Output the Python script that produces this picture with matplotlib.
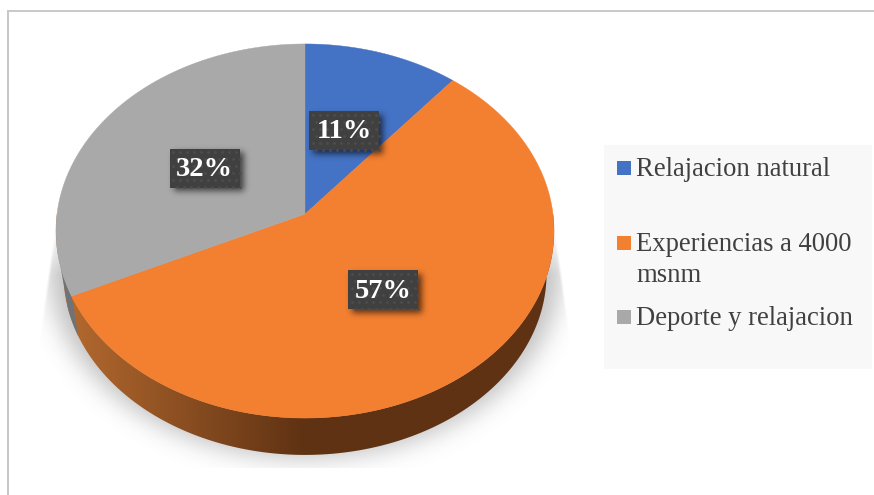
import numpy as np
import matplotlib
matplotlib.use("Agg")
import matplotlib.pyplot as plt
from matplotlib.colors import LinearSegmentedColormap
from matplotlib.patches import Polygon, Rectangle

categories = ["Relajacion natural", "Experiencias a 4000\nmsnm", "Deporte y relajacion"]
values = [11, 57, 32]
colors = ["#4472c4", "#f37f30", "#a9a9a9"]
label_centers = [(344, 130.5), (383, 289.5), (204.5, 168)]

W, H = 874, 495
cx, cy = 305, 214
k, A, B = 0.0909, 248, 185.5
low_s, depth = 0.97, 43

plt.rcParams["font.family"] = ["Liberation Serif", "DejaVu Serif"]


def rim(theta, a=A, b=B, dy=0):
    # pie plane seen in perspective, theta clockwise from the top
    u, v = np.sin(theta), np.cos(theta)
    w = 1 + k * v
    return np.column_stack([cx + a * u / w, cy - b * v / w + dy])


def low_rim(theta):
    return rim(theta, A * low_s, B * low_s, depth)


def blur(img, sigma):
    r = int(3 * sigma)
    g = np.exp(-0.5 * (np.arange(-r, r + 1) / sigma) ** 2)
    g /= g.sum()
    img = np.apply_along_axis(np.convolve, 0, img, g, mode="same")
    return np.apply_along_axis(np.convolve, 1, img, g, mode="same")


def gray_layer(alpha, shade, x0=0, x1=W, y0=0, y1=H):
    rgba = np.zeros(alpha.shape + (4,))
    rgba[..., :3] = shade
    rgba[..., 3] = alpha
    return ax.imshow(rgba, extent=(x0, x1, y1, y0), aspect="auto", interpolation="bilinear")


fig = plt.figure(figsize=(W / 100, H / 100), dpi=100)
ax = fig.add_axes([0, 0, 1, 1])
ax.set_axis_off()

# page frame
ax.add_patch(Rectangle((7, 10), W, 1.6, fc="#c9c9c9", ec="none"))
ax.add_patch(Rectangle((7, 10), 1.6, H, fc="#c9c9c9", ec="none"))

# soft shadow under the pie, cut off by a slanted box like the original
yy, xx = np.mgrid[0:H, 0:W] + 0.5
mask = (((xx - cx) / 256.0) ** 2 + ((yy - 268) / 190.0) ** 2 < 1).astype(float)
shadow = blur(mask, 12) * 0.42
half = 250 + np.clip(yy - 225, 0, None) * 15 / 105
edge = np.clip((half - np.abs(xx - cx)) / 3.0, 0, 1)
shadow = shadow * edge * np.clip((yy - 225) / 50, 0, 1)
shadow[yy > 468] = 0
gray_layer(shadow, 0.42)

# side wall
t = np.linspace(np.pi / 2, 3 * np.pi / 2, 400)
wall = Polygon(np.vstack([rim(t), low_rim(t)[::-1]]), fc="none", ec="none")
ax.add_patch(wall)
side_cmap = LinearSegmentedColormap.from_list(
    "side", [(0, "#b86c30"), (0.5, "#5f3213"), (1, "#5f3213")]
)
grad = ax.imshow(np.linspace(0, 1, 256)[None, :], extent=(55, 555, 460, 200), aspect="auto", cmap=side_cmap)
grad.set_clip_path(wall)

# grey sliver of the wall at the far left
bounds = 2 * np.pi * np.cumsum([0] + values) / sum(values)
t_grey = np.linspace(bounds[2], bounds[2] + 0.16, 40)
ax.add_patch(Polygon(np.vstack([rim(t_grey), low_rim(t_grey)[::-1]]), fc="#6f7378", ec="none", zorder=2))

# top faces
for i, val in enumerate(values):
    t = np.linspace(bounds[i], bounds[i + 1], 200)
    pts = np.vstack([[cx, cy], rim(t)])
    ax.add_patch(Polygon(pts, fc=colors[i], ec=colors[i], lw=0.3, zorder=3))

# data labels
for val, (lx, ly) in zip(values, label_centers):
    bw, bh = 70, 39
    x0, y0 = lx - bw / 2, ly - bh / 2
    pad = 18
    m = np.zeros((int(bh + 2 * pad), int(bw + 2 * pad)))
    m[pad:-pad, pad:-pad] = 1
    sh = gray_layer(blur(m, 3.2) * 0.6, 0.0, x0 - pad + 4, x0 + bw + pad + 4, y0 - pad + 4, y0 + bh + pad + 4)
    sh.set_zorder(4)
    ax.add_patch(Rectangle((x0, y0), bw, bh, fc="#404040", ec="none", zorder=5))
    dx, dy = np.meshgrid(np.arange(x0 + 3.5, x0 + bw, 7), np.arange(y0 + 3.5, y0 + bh, 7))
    dx[1::2] += 3.5
    ax.scatter(dx.ravel(), dy.ravel(), s=4, c="#4d4d4d", linewidths=0, zorder=6)
    ax.text(lx, ly + 1.5, "%d%%" % val, color="white", fontsize=20.5, fontweight="bold", ha="center", va="center", zorder=7)

# legend
ax.add_patch(Rectangle((604, 145), 268, 224, fc="#f8f8f8", ec="none"))
leg_y = [168, 243, 317]
for name, c, y in zip(categories, colors, leg_y):
    ax.add_patch(Rectangle((617, y - 7.5), 14, 14, fc=c, ec="none"))
    for j, line in enumerate(name.split("\n")):
        ax.text(636, y + 1.5 + j * 31, line, color="#404040", fontsize=19.2, ha="left", va="center")

ax.set_xlim(0, W)
ax.set_ylim(H, 0)
fig.savefig("out.png", dpi=100)
